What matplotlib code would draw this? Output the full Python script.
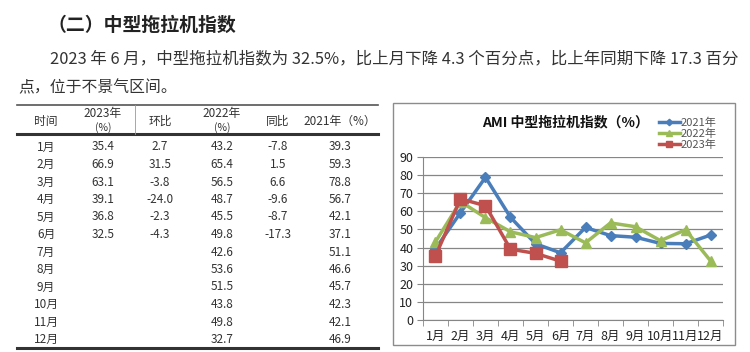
import numpy as np
import matplotlib
matplotlib.use('Agg')
import matplotlib.pyplot as plt
from matplotlib.patches import Rectangle

plt.rcParams['font.family'] = ['Noto Sans CJK SC', 'DejaVu Sans']

# data
months = ['1月', '2月', '3月', '4月', '5月', '6月',
          '7月', '8月', '9月', '10月', '11月', '12月']
v2023 = [35.4, 66.9, 63.1, 39.1, 36.8, 32.5]
mom = [2.7, 31.5, -3.8, -24.0, -2.3, -4.3]
v2022 = [43.2, 65.4, 56.5, 48.7, 45.5, 49.8, 42.6, 53.6, 51.5, 43.8, 49.8, 32.7]
yoy = [-7.8, 1.5, 6.6, -9.6, -8.7, -17.3]
v2021 = [39.3, 59.3, 78.8, 56.7, 42.1, 37.1, 51.1, 46.6, 45.7, 42.3, 42.1, 46.9]

heading = '（二）中型拖拉机指数'
para1 = '2023 年 6 月，中型拖拉机指数为 32.5%，比上月下降 4.3 个百分点，比上年同期下降 17.3 百分'
para2 = '点，位于不景气区间。'
chart_title = 'AMI 中型拖拉机指数（%）'

txt = '#333333'
W, H = 750, 352
fig = plt.figure(figsize=(W / 100, H / 100), dpi=100)

# page layer in pixel units
bg = fig.add_axes([0, 0, 1, 1])
bg.set_xlim(0, W)
bg.set_ylim(H, 0)
bg.axis('off')

bg.text(47, 25, heading, fontsize=13.6, fontweight='bold', color='#222222', va='center')
bg.text(50, 59, para1, fontsize=11.85, color=txt, va='center')
bg.text(18, 88, para2, fontsize=11.4, color=txt, va='center')

# table
col_x = [46, 103, 160, 222, 278, 340]
row0, dy = 147, 17.5
bg.plot([17, 378], [105, 105], color='#555555', lw=1.2)
bg.plot([17, 378], [134, 134], color='#333333', lw=2.2)
bg.plot([17, 378], [348, 348], color='#333333', lw=2.2)
bg.plot([135, 135], [105, 134], color='#999999', lw=0.6)
hfs = 8.5
bg.text(col_x[0], 121, '时间', fontsize=hfs, color=txt, ha='center', va='center')
bg.text(col_x[1], 114, '2023年', fontsize=hfs, color=txt, ha='center', va='center')
bg.text(col_x[1], 128, '(%)', fontsize=hfs - 1, color=txt, ha='center', va='center')
bg.text(col_x[2], 121, '环比', fontsize=hfs, color=txt, ha='center', va='center')
bg.text(col_x[3], 114, '2022年', fontsize=hfs, color=txt, ha='center', va='center')
bg.text(col_x[3], 128, '(%)', fontsize=hfs - 1, color=txt, ha='center', va='center')
bg.text(col_x[4], 121, '同比', fontsize=hfs, color=txt, ha='center', va='center')
bg.text(col_x[5], 121, '2021年（%）', fontsize=hfs, color=txt, ha='center', va='center')

for i, m in enumerate(months):
    y = row0 + dy * i
    cells = [m,
             '%.1f' % v2023[i] if i < len(v2023) else '',
             '%.1f' % mom[i] if i < len(mom) else '',
             '%.1f' % v2022[i],
             '%.1f' % yoy[i] if i < len(yoy) else '',
             '%.1f' % v2021[i]]
    for cx, c in zip(col_x, cells):
        bg.text(cx, y, c, fontsize=hfs, color=txt, ha='center', va='center')

# chart frame
bg.add_patch(Rectangle((393, 103), 342, 242, facecolor='white',
                       edgecolor='#8c8c8c', lw=1))
bg.text(566, 122, chart_title, fontsize=10, fontweight='bold', color='#111111',
        ha='center', va='center')

# chart
ax = fig.add_axes([423 / W, 1 - 320 / H, 300 / W, 163 / H])
x = np.arange(1, 13)
gray = '#868686'
l21, = ax.plot(x, v2021, color='#4A7EBB', lw=2.5, marker='D', ms=5.5, label='2021年')
l22, = ax.plot(x, v2022, color='#9BBB59', lw=2.5, marker='^', ms=7, label='2022年')
l23, = ax.plot(x[:len(v2023)], v2023, color='#C0504D', lw=2.5, marker='s', ms=8, label='2023年')

ax.set_xlim(0.5, 12.5)
ax.set_ylim(0, 90)
ax.set_yticks(range(0, 91, 10))
ax.yaxis.grid(True, color=gray, lw=0.9)
ax.set_axisbelow(True)
ax.set_xticks(x)
ax.set_xticklabels(months)
ax.set_xticks(np.arange(0.5, 13, 1), minor=True)
ax.tick_params(axis='x', which='major', length=0, pad=7, labelsize=9, colors='#222222')
ax.tick_params(axis='x', which='minor', length=4, color=gray, direction='out')
ax.tick_params(axis='y', length=4, color=gray, labelsize=9, labelcolor='#222222', pad=3)
for s in ['top', 'right']:
    ax.spines[s].set_visible(False)
for s in ['left', 'bottom']:
    ax.spines[s].set_color(gray)

fig.legend(handles=[l21, l22, l23], loc='upper left', bbox_to_anchor=(653 / W, 1 - 112 / H),
           frameon=False, fontsize=8, labelcolor='#555555', handlelength=1.9,
           handletextpad=0.05, labelspacing=0.05, borderpad=0, markerscale=0.6)

fig.savefig('out.png', dpi=100)
